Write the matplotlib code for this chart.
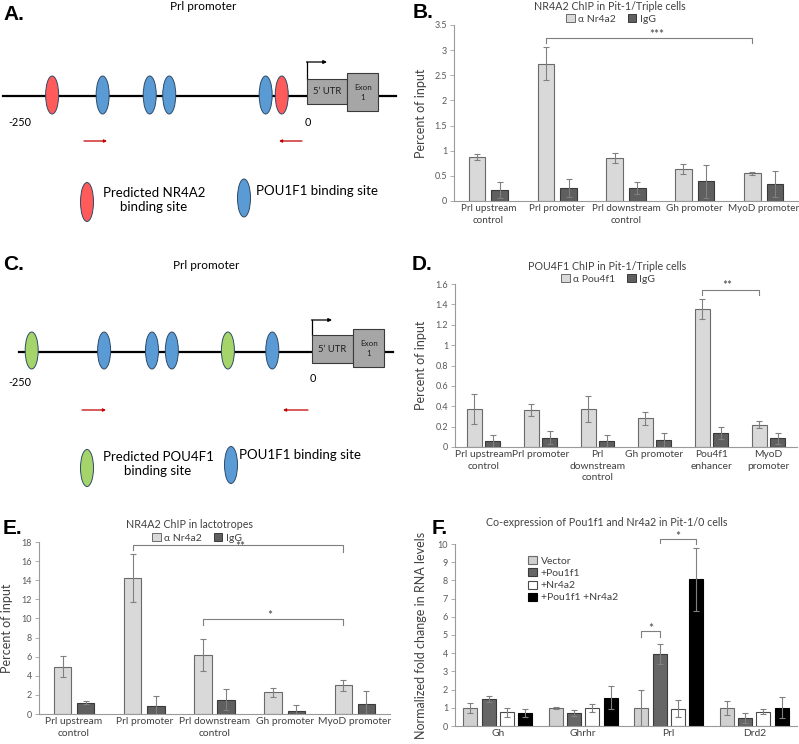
import matplotlib.pyplot as plt
from matplotlib.patches import Ellipse, Rectangle, Patch
from matplotlib.ticker import MultipleLocator, FormatStrFormatter

plt.rcParams['font.family'] = ['Lato', 'DejaVu Sans']

W, H = 799, 744
fig = plt.figure(figsize=(W / 100, H / 100), dpi=100)

# ---------------- data ----------------
# promoter diagrams: binding sites, bp relative to the TSS
a_nr4a2_sites = [-222, -22]
a_pou1f1_sites = [-178, -137, -120, -36]
c_pou4f1_sites = [-240, -72]
c_pou1f1_sites = [-178, -137, -120, -34]
utr_bp = (0, 35)
exon_bp = (35, 62)

# B: NR4A2 ChIP in Pit-1/Triple cells
b_cats = ['Prl upstream\ncontrol', 'Prl promoter', 'Prl downstream\ncontrol',
          'Gh promoter', 'MyoD promoter']
b_ab = [0.88, 2.73, 0.86, 0.63, 0.55]
b_ab_err = [0.06, 0.33, 0.10, 0.10, 0.035]
b_igg = [0.22, 0.26, 0.26, 0.39, 0.33]
b_igg_err = [0.16, 0.175, 0.12, 0.33, 0.26]

# D: POU4F1 ChIP in Pit-1/Triple cells
d_cats = ['Prl upstream\ncontrol', 'Prl promoter', 'Prl\ndownstream\ncontrol',
          'Gh promoter', 'Pou4f1\nenhancer', 'MyoD\npromoter']
d_ab = [0.375, 0.363, 0.375, 0.28, 1.353, 0.219]
d_ab_err = [0.145, 0.057, 0.127, 0.06, 0.095, 0.037]
d_igg = [0.059, 0.092, 0.059, 0.069, 0.137, 0.085]
d_igg_err = [0.06, 0.065, 0.063, 0.068, 0.06, 0.055]

# E: NR4A2 ChIP in lactotropes
e_cats = ['Prl upstream\ncontrol', 'Prl promoter', 'Prl downstream\ncontrol',
          'Gh promoter', 'MyoD promoter']
e_ab = [4.97, 14.23, 6.19, 2.27, 3.0]
e_ab_err = [1.12, 2.53, 1.66, 0.47, 0.61]
e_igg = [1.19, 0.8, 1.47, 0.35, 1.01]
e_igg_err = [0.19, 1.12, 1.1, 0.56, 1.4]

# F: co-expression
f_cats = ['Gh', 'Ghrhr', 'Prl', 'Drd2']
f_vector = [0.99, 0.99, 0.99, 0.99]
f_vector_err = [0.26, 0.04, 0.98, 0.37]
f_pou1f1 = [1.49, 0.70, 3.94, 0.44]
f_pou1f1_err = [0.15, 0.16, 0.56, 0.26]
f_nr4a2 = [0.75, 0.99, 0.94, 0.79]
f_nr4a2_err = [0.25, 0.20, 0.47, 0.13]
f_both = [0.72, 1.56, 8.05, 1.01]
f_both_err = [0.22, 0.62, 1.74, 0.58]

RED, BLUE, GREEN = '#ff5b5b', '#5b9bd5', '#a5d46a'
LIGHT, DARK = '#d9d9d9', '#5f5f5f'
TXT, TICK = '#404040', '#595959'


def px_axes(x0, y0, x1, y1):
    return fig.add_axes([x0 / W, 1 - y1 / H, (x1 - x0) / W, (y1 - y0) / H])


def ftext(x, y, s, **kw):
    fig.text(x / W, 1 - y / H, s, **kw)


# ---------------- promoter diagrams ----------------
def promoter(y0, zero_px, scale, line_x, line_y, site_y, site_h, sites,
             box_y, exon_y, tss_y, lab_y, primer_y, fwd, rev):
    ax = px_axes(0, y0, 400, y0 + 250)
    ax.set_xlim(0, 400)
    ax.set_ylim(250, 0)
    ax.axis('off')
    bp = lambda v: zero_px + v * scale
    ax.plot(line_x, [line_y, line_y], color='black', lw=1.6, zorder=1)
    for pos, col in sites:
        ax.add_patch(Ellipse((bp(pos), site_y), 13, site_h, facecolor=col,
                             edgecolor='#2e4a66', lw=0.7, zorder=3))
    ax.add_patch(Rectangle((bp(utr_bp[0]), box_y[0]), bp(utr_bp[1]) - bp(utr_bp[0]),
                           box_y[1] - box_y[0], facecolor='#a6a6a6', edgecolor='#3a3a3a',
                           lw=0.8, zorder=3))
    ax.add_patch(Rectangle((bp(exon_bp[0]), exon_y[0]), bp(exon_bp[1]) - bp(exon_bp[0]),
                           exon_y[1] - exon_y[0], facecolor='#a6a6a6', edgecolor='#3a3a3a',
                           lw=0.8, zorder=3))
    ax.text((bp(utr_bp[0]) + bp(utr_bp[1])) / 2, sum(box_y) / 2, '5\u2019 UTR',
            ha='center', va='center', fontsize=6.8, color='#202020', zorder=4)
    ax.text((bp(exon_bp[0]) + bp(exon_bp[1])) / 2, sum(exon_y) / 2, 'Exon\n1',
            ha='center', va='center', fontsize=5.8, color='#202020', zorder=4,
            linespacing=1.5)
    ax.plot([bp(0), bp(0)], [box_y[0], tss_y], color='black', lw=0.9)
    ax.annotate('', xy=(bp(0) + 20, tss_y), xytext=(bp(0) - 0.5, tss_y),
                arrowprops=dict(arrowstyle='-|>', color='black', lw=0.9,
                                mutation_scale=5, shrinkA=0, shrinkB=0))
    ax.text(bp(-250), lab_y, '-250', ha='center', va='center', fontsize=7.8)
    ax.text(bp(0) + 1, lab_y - (4 if y0 else 0), '0', ha='center', va='center', fontsize=7.8)
    for a, b in (fwd, rev):
        ax.annotate('', xy=(b, primer_y), xytext=(a, primer_y),
                    arrowprops=dict(arrowstyle='-|>', color='#c00000', lw=0.9,
                                    mutation_scale=4, shrinkA=0, shrinkB=0))
    return ax


ax_a = promoter(0, 307, 1.148, [3, 396], 96, 95, 38,
                [(p, RED) for p in a_nr4a2_sites] + [(p, BLUE) for p in a_pou1f1_sites],
                (79, 104), (73, 111), 62, 123, 141, (84, 107), (302, 279))
ax_a.text(203, 7, 'Prl promoter', ha='center', va='center', fontsize=8.5)
ax_a.add_patch(Ellipse((87, 202), 13, 39, facecolor=RED, edgecolor='#2e4a66', lw=0.7))
ax_a.text(154, 200, 'Predicted NR4A2\nbinding site', ha='center', va='center',
          fontsize=9.5, linespacing=1.15)
ax_a.add_patch(Ellipse((244, 198), 13, 38, facecolor=BLUE, edgecolor='#2e4a66', lw=0.7))
ax_a.text(256, 191, 'POU1F1 binding site', ha='left', va='center', fontsize=9.5)

ax_c = promoter(250, 312, 1.168, [19, 393], 102, 100.5, 37,
                [(p, GREEN) for p in c_pou4f1_sites] + [(p, BLUE) for p in c_pou1f1_sites],
                (85, 113), (79, 117), 70, 133, 160, (82, 106), (308, 283))
ax_c.text(206, 16, 'Prl promoter', ha='center', va='center', fontsize=8.5)
ax_c.add_patch(Ellipse((87, 218), 13, 37, facecolor=GREEN, edgecolor='#2e4a66', lw=0.7))
ax_c.text(158, 214, 'Predicted POU4F1\nbinding site', ha='center', va='center',
          fontsize=9.5, linespacing=1.15)
ax_c.add_patch(Ellipse((231, 215), 13, 37, facecolor=BLUE, edgecolor='#2e4a66', lw=0.7))
ax_c.text(239, 205, 'POU1F1 binding site', ha='left', va='center', fontsize=9.5)


# ---------------- bar charts ----------------
def style(ax, cats, ymax, step, ylabel, labx, xfs=7.4):
    ax.set_xlim(-0.5, len(cats) - 0.5)
    ax.set_ylim(0, ymax)
    ax.yaxis.set_major_locator(MultipleLocator(step))
    ax.yaxis.set_major_formatter(FormatStrFormatter('%g'))
    ax.set_xticks(range(len(cats)))
    ax.set_xticklabels(cats, fontsize=xfs, color=TXT, linespacing=1.3)
    ax.tick_params(axis='x', length=0, pad=2.5)
    ax.tick_params(axis='y', length=3, width=0.6, color='#a0a0a0', labelsize=6.5,
                   labelcolor=TICK, pad=2)
    for s in ('top', 'right'):
        ax.spines[s].set_visible(False)
    for s in ('left', 'bottom'):
        ax.spines[s].set_color('#9a9a9a')
        ax.spines[s].set_linewidth(0.8)
    ax.set_ylabel(ylabel, fontsize=9, color=TXT)
    ax.yaxis.set_label_coords(labx, 0.5)


def bracket(ax, x0, x1, y, y0, y1, star, sx, sy):
    ax.plot([x0, x0, x1, x1], [y0, y, y, y1], color='#7f7f7f', lw=0.8, clip_on=False)
    ax.text(sx, sy, star, ha='center', va='center', fontsize=8.5, color=TXT)


ebar = dict(ecolor='#808080', elinewidth=0.8, capsize=2, capthick=0.8)


def chip(rect, cats, ab, ab_err, igg, igg_err, ymax, step, labx, w, xfs=7.4):
    ax = px_axes(*rect)
    x = range(len(cats))
    ax.bar([i - 0.165 for i in x], ab, w, yerr=ab_err, color=LIGHT,
           edgecolor='#6a6a6a', lw=0.8, error_kw=ebar, zorder=2)
    ax.bar([i + 0.165 for i in x], igg, w, yerr=igg_err, color=DARK,
           edgecolor='#3a3a3a', lw=0.8, error_kw=ebar, zorder=2)
    style(ax, cats, ymax, step, 'Percent of input', labx, xfs)
    return ax


def chip_legend(ax, label, cx, cy):
    h = [Patch(facecolor=LIGHT, edgecolor='#6a6a6a', lw=0.7, label=label),
         Patch(facecolor=DARK, edgecolor='#3a3a3a', lw=0.7, label='IgG')]
    ax.legend(handles=h, ncol=2, frameon=False, fontsize=7.5, loc='center',
              bbox_to_anchor=(cx / W, 1 - cy / H), bbox_transform=fig.transFigure,
              handlelength=0.8, handleheight=0.8, handletextpad=0.3, columnspacing=1.2,
              labelcolor=TXT)


# B
ax_b = chip((454, 25, 798, 201), b_cats, b_ab, b_ab_err, b_igg, b_igg_err,
            3.5, 0.5, -0.078, 0.24, xfs=7.1)
chip_legend(ax_b, '\u03b1 Nr4a2', 611, 19)
ftext(610, 7, 'NR4A2 ChIP in Pit-1/Triple cells', ha='center', va='center',
      fontsize=7.7, color=TXT)
bracket(ax_b, 0.835, 3.835, 3.24, 3.14, 3.14, '***', 2.45, 3.31)

# D
ax_d = chip((455, 284, 797, 447), d_cats, d_ab, d_ab_err, d_igg, d_igg_err,
            1.6, 0.2, -0.082, 0.26)
chip_legend(ax_d, '\u03b1 Pou4f1', 608, 279)
ftext(607, 267, 'POU4F1 ChIP in Pit-1/Triple cells', ha='center', va='center',
      fontsize=7.7, color=TXT)
bracket(ax_d, 3.837, 4.837, 1.545, 1.496, 1.496, '**', 4.27, 1.585)

# E
ax_e = chip((39, 542, 390, 714), e_cats, e_ab, e_ab_err, e_igg, e_igg_err,
            18, 2, -0.074, 0.25)
chip_legend(ax_e, '\u03b1 Nr4a2', 197, 538)
ftext(190, 525, 'NR4A2 ChIP in lactotropes', ha='center', va='center',
      fontsize=7.7, color=TXT)
bracket(ax_e, 0.835, 3.835, 17.7, 17.2, 17.0, '**', 2.36, 17.5)
bracket(ax_e, 1.835, 3.835, 9.93, 9.34, 9.34, '*', 2.79, 10.3)

# F
ax_f = px_axes(455, 544, 797, 726)
off = [-1.5 * 0.215, -0.5 * 0.215, 0.5 * 0.215, 1.5 * 0.215]
series = [('Vector', f_vector, f_vector_err, '#d0d0d0', '#6a6a6a'),
          ('+Pou1f1', f_pou1f1, f_pou1f1_err, '#666666', '#3a3a3a'),
          ('+Nr4a2', f_nr4a2, f_nr4a2_err, 'white', '#4a4a4a'),
          ('+Pou1f1 +Nr4a2', f_both, f_both_err, 'black', 'black')]
for o, (lab, v, e, fc, ec) in zip(off, series):
    ax_f.bar([i + o for i in range(len(f_cats))], v, 0.165, yerr=e, color=fc,
             edgecolor=ec, lw=0.8, error_kw=ebar, label=lab, zorder=2)
style(ax_f, f_cats, 10, 1, 'Normalized fold change in RNA levels', -0.082)
ax_f.legend(loc='upper left', bbox_to_anchor=((524 - 455) / 342, (726 - 552) / 182),
            frameon=False, fontsize=7.5, handlelength=0.8, handleheight=0.8,
            handletextpad=0.4, labelspacing=0.25, borderaxespad=0, labelcolor=TXT)
ftext(607, 523, 'Co-expression of Pou1f1 and Nr4a2 in Pit-1/0 cells', ha='center',
      va='center', fontsize=7.7, color=TXT)
bracket(ax_f, 1.6775, 1.8925, 5.24, 4.9, 4.9, '*', 1.79, 5.35)
bracket(ax_f, 1.8925, 2.3225, 10.3, 10.05, 10.0, '*', 2.1, 10.4)

# panel letters
for lab, x, y in [('A.', 3, 14), ('B.', 413, 13), ('C.', 3, 265), ('D.', 412, 265),
                  ('E.', 3, 529), ('F.', 432, 528)]:
    ftext(x, y, lab, ha='left', va='center', fontsize=15, fontweight='bold',
          family='Liberation Sans')

fig.savefig('out.png', dpi=100)
